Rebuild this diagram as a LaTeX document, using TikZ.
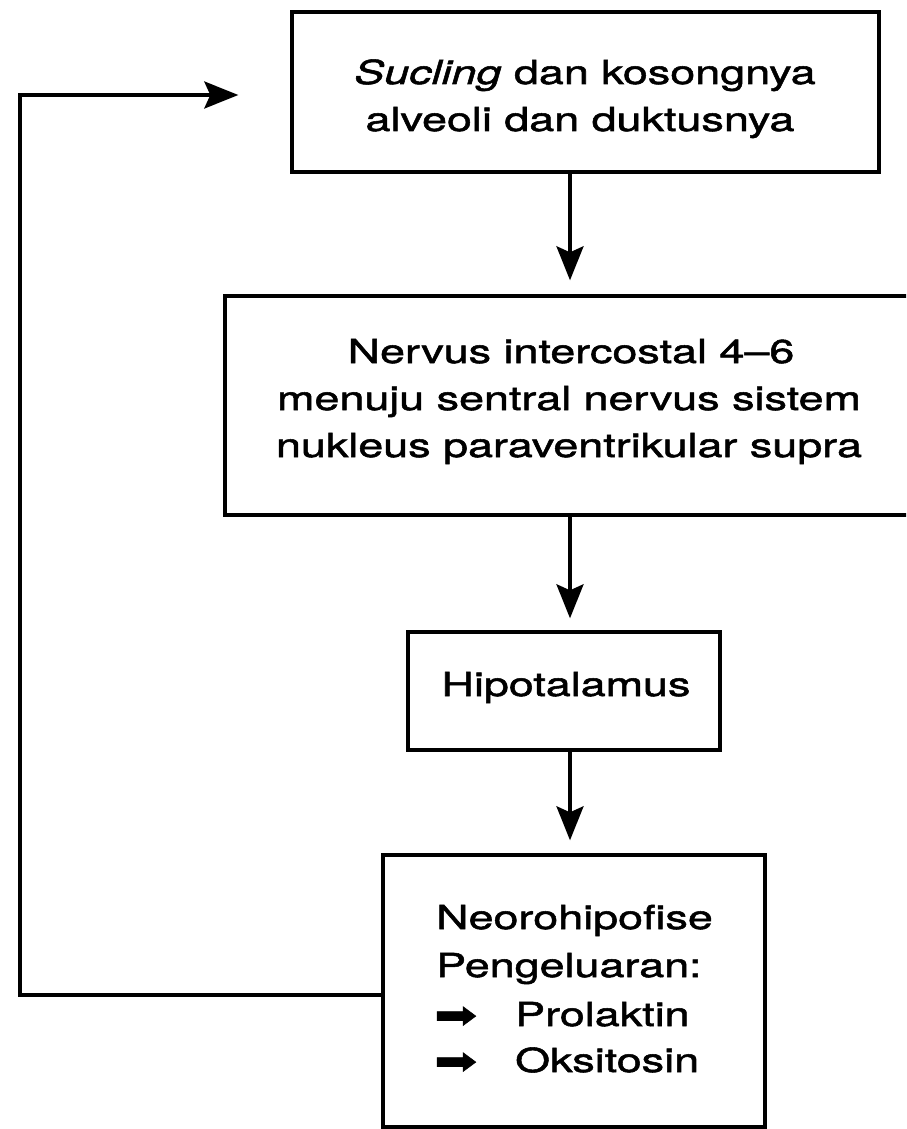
\documentclass[tikz,border=0pt]{standalone}
\usepackage{fontspec}
\setmainfont[FakeStretch=1.36,FakeBold=1.6]{TeX Gyre Heros}
\newfontfamily\symfont[FakeStretch=1.35,FakeBold=1.5]{DejaVu Sans}
\usetikzlibrary{arrows.meta}

\begin{document}
\begin{tikzpicture}[x=1pt,y=-1pt,
  frame/.style={draw, line width=3.4pt, inner sep=0pt},
  txt/.style={anchor=base, inner sep=0pt, font=\fontsize{33}{46}\selectfont},
  ltxt/.style={txt, anchor=base west},
  bul/.style={anchor=base west, inner sep=0pt, font=\fontsize{38}{46}\symfont},
  link/.style={line width=3.4pt, -{Stealth[length=34pt,width=27pt,inset=6pt]}}]
\useasboundingbox (0,0) rectangle (906,1129);
\fill[white] (0,0) rectangle (906,1129);
\clip (0,0) rectangle (906,1129);

% flow boxes
\node[frame, minimum width=587pt, minimum height=160pt] (suck) at (585.5,92) {};
\node[frame, minimum width=705pt, minimum height=219pt] (nerv) at (577.5,405.5) {};
\node[frame, minimum width=312pt, minimum height=118pt] (hipo) at (564,691) {};
\node[frame, minimum width=382pt, minimum height=272pt] (neuro) at (574,991) {};

% box texts
\node[txt] (s1) at (585,84) {\textit{Sucling} dan kosongnya};
\node[txt] (s2) at (580,131) {alveoli dan duktusnya};
\node[txt] (n1) at (571,363) {Nervus intercostal 4--6};
\node[txt] (n2) at (569,410) {menuju sentral nervus sistem};
\node[txt] (n3) at (569,457) {nukleus paraventrikular supra};
\node[txt] (h1) at (566,696) {Hipotalamus};
\node[ltxt] (o1) at (436,929) {Neorohipofise};
\node[ltxt] (o2) at (436,977) {Pengeluaran:};
\node[bul] (b1) at (434,1028) {➡};
\node[ltxt] (o3) at (515,1026) {Prolaktin};
\node[bul] (b2) at (434,1074) {➡};
\node[ltxt] (o4) at (515,1072) {Oksitosin};

% connectors
\coordinate (col) at (570,0);
\coordinate (rail) at (20,500);
\draw[link, shorten >=14pt] (suck.south -| col) -- (nerv.north -| col);
\draw[link, shorten >=12pt] (nerv.south -| col) -- (hipo.north -| col);
\draw[link, shorten >=13pt] (hipo.south -| col) -- (neuro.north -| col);
\draw[link, shorten >=52pt] ([yshift=-4pt]neuro.west) -| (rail) |- ([yshift=-3pt]suck.west);
\end{tikzpicture}
\end{document}
